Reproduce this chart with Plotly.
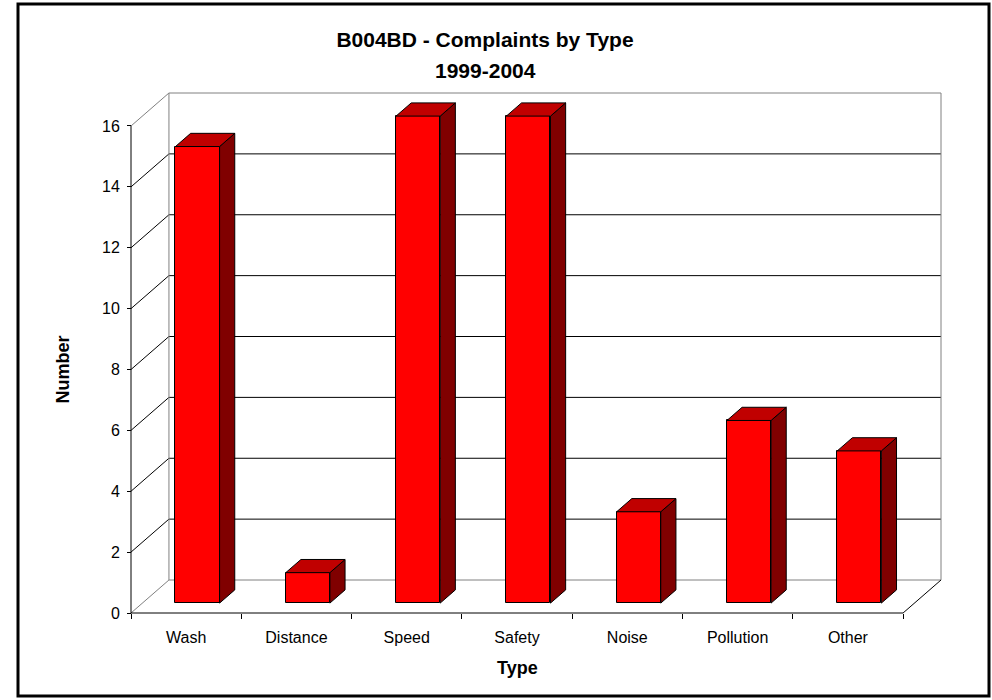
import plotly.graph_objects as go

# ---------------- data ----------------
categories = ["Wash", "Distance", "Speed", "Safety", "Noise", "Pollution", "Other"]
values = [15, 1, 16, 16, 3, 6, 5]
y_ticks = [0, 2, 4, 6, 8, 10, 12, 14, 16]
y_max = 16
title_line1 = "B004BD - Complaints by Type"
title_line2 = "1999-2004"
x_title = "Type"
y_title = "Number"

# ---------------- 3D styling constants (in axis units) ----------------
DX = 0.344      # depth offset along x (category units)
DY = 1.084      # depth offset along y (value units)
FD = 0.30       # front of bar at this fraction of depth
BD = 0.40       # bar depth as fraction of depth
BW = 0.40       # bar width (category units)
n = len(categories)

W, H = 992, 700
ML, MR, MT, MB = 127, 47, 89, 83
plot_w = W - ML - MR
plot_h = H - MT - MB
# padding so edge lines are not clipped (4 px each side)
upx = (plot_w - 8) / (n + DX)
upy = (plot_h - 8) / (y_max + DY)
padx = 4 / upx
pady = 4 / upy
xr = [-padx, n + DX + padx]
yr = [-pady, y_max + DY + pady]

FONT = "Arial, 'Liberation Sans', sans-serif"
GRAY = "#808080"
RED = "#FF0000"
TOP = "#C00000"
SIDE = "#800000"

shapes = []

def seg(x0, y0, x1, y1, color, width=1):
    shapes.append(dict(type="line", xref="x", yref="y", x0=x0, y0=y0, x1=x1, y1=y1,
                       line=dict(color=color, width=width), layer="below"))

# gridlines: back wall horizontal + side wall diagonal
for v in y_ticks:
    col = GRAY if v in (0, y_max) else "#000000"
    seg(DX, v + DY, n + DX, v + DY, col)
    seg(0, v, DX, v + DY, col)
# back wall edges
seg(DX, DY, DX, y_max + DY, GRAY)
seg(n + DX, DY, n + DX, y_max + DY, GRAY)
# floor right edge
seg(n, 0, n + DX, DY, "#000000")
# front axes lines
seg(0, 0, 0, y_max, "#000000")
seg(0, 0, n, 0, "#000000")

fig = go.Figure()

# front faces of bars
centers = [i + 0.5 + FD * DX for i in range(n)]
fig.add_trace(go.Bar(
    x=centers, y=values, base=FD * DY, width=BW,
    marker=dict(color=RED, line=dict(color="#000000", width=1)),
    xaxis="x", yaxis="y", hoverinfo="skip", showlegend=False))

# side & top faces
for i, v in enumerate(values):
    x0 = centers[i] - BW / 2
    x1 = centers[i] + BW / 2
    y0 = FD * DY
    y1 = v + FD * DY
    ddx = BD * DX
    ddy = BD * DY
    fig.add_trace(go.Scatter(
        x=[x1, x1 + ddx, x1 + ddx, x1, x1], y=[y0, y0 + ddy, y1 + ddy, y1, y0],
        fill="toself", fillcolor=SIDE, mode="lines",
        line=dict(color="#000000", width=1), hoverinfo="skip", showlegend=False))
    fig.add_trace(go.Scatter(
        x=[x0, x1, x1 + ddx, x0 + ddx, x0], y=[y1, y1, y1 + ddy, y1 + ddy, y1],
        fill="toself", fillcolor=TOP, mode="lines",
        line=dict(color="#000000", width=1), hoverinfo="skip", showlegend=False))

# invisible trace on xaxis2 so it renders
fig.add_trace(go.Scatter(x=[0.5], y=[0], xaxis="x2", yaxis="y", mode="markers",
                         marker=dict(opacity=0), hoverinfo="skip", showlegend=False))

posx = padx / (xr[1] - xr[0])
posy = pady / (yr[1] - yr[0])

# outer border in paper coordinates
bl, br_, bt, bb = 18, 989, 4, 696
shapes.append(dict(type="rect", xref="paper", yref="paper",
                   x0=(bl - ML) / plot_w, x1=(br_ - ML) / plot_w,
                   y0=(H - MB - bb) / plot_h, y1=(H - MB - bt) / plot_h,
                   line=dict(color="#000000", width=3), fillcolor="rgba(0,0,0,0)", layer="above"))

annotations = [
    dict(text="<b>" + title_line2 + "</b>", xref="paper", x=(485 - ML) / plot_w,
         yref="paper", y=1, yanchor="middle", xanchor="center", yshift=MT - 70,
         showarrow=False, font=dict(family=FONT, size=21, color="#000000")),
    dict(text="<b>" + x_title + "</b>", xref="x", x=n / 2, yref="paper", y=0,
         yanchor="middle", xanchor="center", yshift=-(668 - (H - MB)), showarrow=False,
         font=dict(family=FONT, size=18, color="#000000")),
    dict(text="<b>" + y_title + "</b>", xref="paper", x=0, yref="y", y=y_max / 2,
         xanchor="center", yanchor="middle", xshift=62 - ML, textangle=-90, showarrow=False,
         font=dict(family=FONT, size=18, color="#000000")),
]

fig.update_layout(
    width=W, height=H,
    margin=dict(l=ML, r=MR, t=MT, b=MB, pad=0),
    paper_bgcolor="white", plot_bgcolor="white",
    font=dict(family=FONT, size=16, color="#000000"),
    title=dict(text="<b>" + title_line1 + "</b>", x=485 / W, xanchor="center", xref="container",
               y=1 - 40 / H, yanchor="middle", yref="container",
               font=dict(family=FONT, size=21, color="#000000")),
    shapes=shapes,
    annotations=annotations,
    bargap=0,
    xaxis=dict(range=xr, tickvals=list(range(n + 1)), ticktext=[""] * (n + 1),
               ticks="outside", ticklen=5, tickcolor="#000000", tickwidth=1,
               showgrid=False, zeroline=False, showline=False,
               anchor="free", position=posy, fixedrange=True),
    xaxis2=dict(range=xr, overlaying="x", side="bottom", anchor="free", position=posy,
                tickvals=[i + 0.5 for i in range(n)], ticktext=categories,
                ticks="outside", ticklen=10, tickcolor="rgba(0,0,0,0)",
                tickfont=dict(size=16),
                showgrid=False, zeroline=False, showline=False, fixedrange=True),
    yaxis=dict(range=yr, tickvals=y_ticks, ticks="outside", ticklen=4,
               tickcolor="#000000", tickwidth=1, tickfont=dict(size=16),
               ticklabelstandoff=4,
               showgrid=False, zeroline=False, showline=False,
               anchor="free", position=posx, fixedrange=True),
)

fig.write_html("out.html", config={"displayModeBar": False},
               post_script="document.body.style.margin='0px';")
